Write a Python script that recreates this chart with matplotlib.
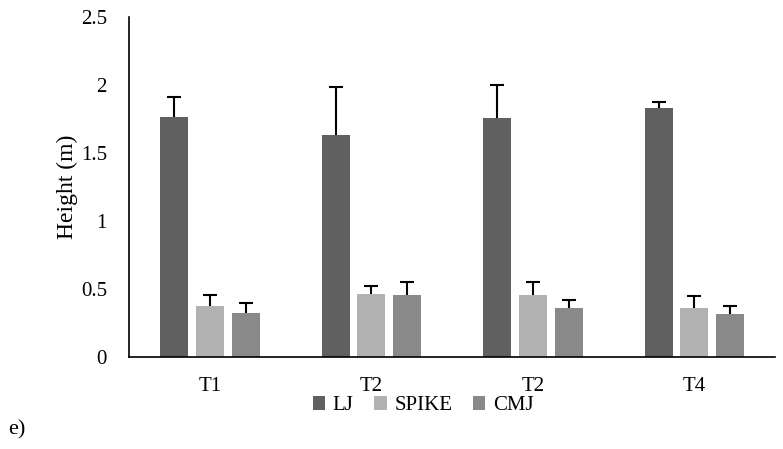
import numpy as np
import matplotlib.pyplot as plt

plt.rcParams["font.family"] = ["Liberation Serif", "DejaVu Serif"]

# Data
tests = ["T1", "T2", "T2", "T4"]
lj = [1.76, 1.63, 1.755, 1.825]
lj_err = [0.15, 0.355, 0.24, 0.05]
spike = [0.37, 0.46, 0.45, 0.36]
spike_err = [0.08, 0.06, 0.095, 0.085]
cmj = [0.318, 0.45, 0.36, 0.31]
cmj_err = [0.073, 0.095, 0.055, 0.065]

fig = plt.figure(figsize=(7.83, 4.49), dpi=100)
ax = fig.add_axes([0.165, 0.206, 0.825, 0.757])

x = np.arange(len(tests))
w = 0.173
step = 0.222

series = [(lj, lj_err, "#606060", "LJ", -step),
          (spike, spike_err, "#b2b2b2", "SPIKE", 0),
          (cmj, cmj_err, "#898989", "CMJ", step)]

for vals, errs, col, lab, off in series:
    vals = np.array(vals)
    errs = np.array(errs)
    ax.bar(x + off, vals, w, color=col, label=lab)
    # upper error bar only
    ax.errorbar(x + off, vals, yerr=[np.zeros(len(vals)), errs], fmt="none",
                ecolor="black", elinewidth=1.5, capsize=0)
    ax.plot(x + off, vals + errs, ls="none", marker="_", ms=10, mew=1.5, color="black")

ax.set_xlim(-0.5, 3.5)
ax.set_ylim(0, 2.5)
ax.set_yticks([0, 0.5, 1, 1.5, 2, 2.5])
ax.set_yticklabels(["0", "0.5", "1", "1.5", "2", "2.5"])
ax.set_xticks(x)
ax.set_xticklabels(tests)
ax.tick_params(length=0, labelsize=15, pad=15)
ax.tick_params(axis="y", pad=16)
for s in ["top", "right"]:
    ax.spines[s].set_visible(False)
ax.spines["left"].set_linewidth(1.2)
ax.spines["bottom"].set_linewidth(1.2)
ax.set_ylabel("Height (m)", fontsize=17, labelpad=2)

ax.legend(loc="center", bbox_to_anchor=(0.455, -0.145), ncol=3, frameon=False,
          fontsize=15, handlelength=0.6, handleheight=0.6, handletextpad=0.35,
          columnspacing=1.0, borderpad=0)

fig.text(0.01, 0.042, "e)", fontsize=16, va="center")

fig.savefig("out.png", dpi=100)
